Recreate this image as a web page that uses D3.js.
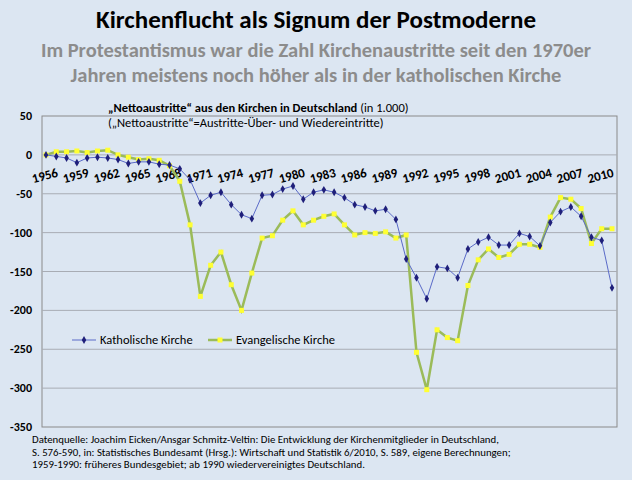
<!DOCTYPE html>
<html><head><meta charset="utf-8">
<script src="https://cdn.jsdelivr.net/npm/d3@7"></script>
<style>body{margin:0;background:#dce6f2;font-family:Calibri,Carlito,"Open Sans",sans-serif}</style>
</head><body><div id="app"></div>
<script>
const years = d3.range(1956, 2012);
const katholisch = [0,-2,-4,-10,-4,-3,-4,-6,-11,-9,-9,-12,-13,-18,-32,-62,-52,-48,-64,-77,-82,-52,-51,-44,-40,-57,-48,-45,-48,-55,-64,-67,-72,-70,-83,-134,-158,-185,-144,-146,-158,-121,-112,-106,-116,-116,-101,-105,-117,-87,-73,-67,-79,-106,-110,-171];
const evangelisch = [0,4,4,5,3,5,6,0,-3,-6,-5,-7,-14,-34,-90,-182,-142,-125,-167,-200,-152,-107,-104,-84,-72,-90,-84,-79,-76,-90,-103,-100,-101,-99,-107,-103,-254,-302,-225,-235,-239,-168,-135,-121,-132,-128,-115,-115,-119,-80,-55,-57,-69,-114,-95,-95];
const yTicks = [50,0,-50,-100,-150,-200,-250,-300,-350];
const footer = [
 "Datenquelle: Joachim Eicken/Ansgar Schmitz-Veltin:  Die Entwicklung  der Kirchenmitglieder  in Deutschland,",
 "S. 576-590, in: Statistisches Bundesamt (Hrsg.): Wirtschaft und Statistik 6/2010, S. 589, eigene Berechnungen;",
 "1959-1990: früheres Bundesgebiet; ab 1990 wiedervereinigtes  Deutschland."];

const svg = d3.select("#app").append("svg").attr("width", 632).attr("height", 480);
const x = d3.scaleLinear().domain([1956, 2011]).range([46, 612]);
const y = d3.scaleLinear().domain([-350, 50]).range([427, 116]);

svg.append("text").attr("x", 316).attr("y", 28).attr("text-anchor", "middle")
  .attr("font-size", 25).attr("font-weight", "bold").text("Kirchenflucht als Signum der Postmoderne");
svg.append("text").attr("x", 316).attr("y", 57).attr("text-anchor", "middle").attr("fill", "#8c8c8c")
  .attr("font-size", 20.5).attr("font-weight", "bold").text("Im Protestantismus war die Zahl Kirchenaustritte seit den 1970er");
svg.append("text").attr("x", 316).attr("y", 82).attr("text-anchor", "middle").attr("fill", "#8c8c8c")
  .attr("font-size", 20.5).attr("font-weight", "bold").text("Jahren meistens noch höher als in der katholischen Kirche");

svg.append("rect").attr("x", 42).attr("y", 116).attr("width", 575).attr("height", 311)
  .attr("fill", "none").attr("stroke", "#8a8a8a");
svg.selectAll(".grid").data(yTicks.slice(1, -1)).join("line")
  .attr("x1", 42).attr("x2", 617).attr("y1", d => y(d)).attr("y2", d => y(d))
  .attr("stroke", "#a8acb4").attr("stroke-width", 1);
svg.selectAll(".yt").data(yTicks).join("text")
  .attr("x", 32).attr("y", d => y(d) + 4).attr("text-anchor", "end")
  .attr("font-size", 12).attr("font-weight", "bold").text(d => d);

svg.append("text").attr("x", 108).attr("y", 112).attr("font-size", 12.5)
  .html('<tspan font-weight="bold">„Nettoaustritte“ aus den Kirchen in Deutschland</tspan> (in 1.000)');
svg.append("text").attr("x", 108).attr("y", 127).attr("font-size", 12.5)
  .text("(„Nettoaustritte“=Austritte-Über- und Wiedereintritte)");

svg.selectAll(".xt").data(years.filter(d => (d - 1956) % 3 === 0)).join("text")
  .attr("transform", d => `translate(${x(d)},${y(0) + 25}) rotate(-15)`)
  .attr("text-anchor", "middle").attr("font-size", 13).attr("font-weight", "bold").text(d => d);

const line = d3.line().x((d, i) => x(years[i])).y(d => y(d));
svg.append("path").datum(evangelisch).attr("d", line).attr("fill", "none")
  .attr("stroke", "#9bbb59").attr("stroke-width", 2.5);
svg.selectAll(".ev").data(evangelisch).join("rect")
  .attr("x", (d, i) => x(years[i]) - 2.5).attr("y", d => y(d) - 2.5)
  .attr("width", 5).attr("height", 5).attr("fill", "#ffff33");
svg.append("path").datum(katholisch).attr("d", line).attr("fill", "none")
  .attr("stroke", "#5a6ac8").attr("stroke-width", 1);
svg.selectAll(".ka").data(katholisch).join("path")
  .attr("transform", (d, i) => `translate(${x(years[i])},${y(d)})`)
  .attr("d", d3.symbol(d3.symbolDiamond, 18)).attr("fill", "#1f1f7a");

// legend
const lg = svg.append("g").attr("transform", "translate(72,340)");
lg.append("line").attr("x1", 0).attr("x2", 24).attr("stroke", "#5a6ac8");
lg.append("path").attr("transform", "translate(12,0)").attr("d", d3.symbol(d3.symbolDiamond, 18)).attr("fill", "#1f1f7a");
lg.append("text").attr("x", 28).attr("y", 4).attr("font-size", 12.5).text("Katholische Kirche");
lg.append("line").attr("x1", 136).attr("x2", 160).attr("stroke", "#9bbb59").attr("stroke-width", 2.5);
lg.append("rect").attr("x", 145.5).attr("y", -2.5).attr("width", 5).attr("height", 5).attr("fill", "#ffff33");
lg.append("text").attr("x", 164).attr("y", 4).attr("font-size", 12.5).text("Evangelische Kirche");

svg.selectAll(".ft").data(footer).join("text")
  .attr("x", 32).attr("y", (d, i) => 443 + i * 12.5).attr("font-size", 10.8).text(d => d);
</script></body></html>
